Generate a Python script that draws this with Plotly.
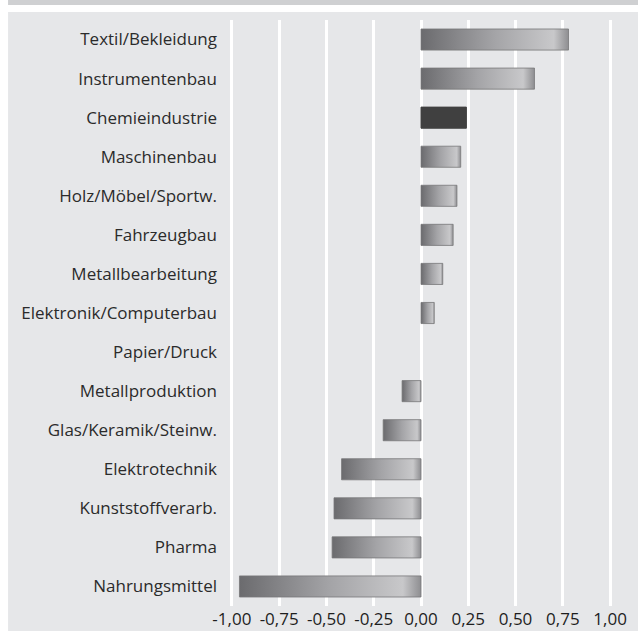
import plotly.graph_objects as go

# Sector values (top to bottom)
categories = [
    "Textil/Bekleidung", "Instrumentenbau", "Chemieindustrie", "Maschinenbau",
    "Holz/Möbel/Sportw.", "Fahrzeugbau", "Metallbearbeitung",
    "Elektronik/Computerbau", "Papier/Druck", "Metallproduktion",
    "Glas/Keramik/Steinw.", "Elektrotechnik", "Kunststoffverarb.", "Pharma",
    "Nahrungsmittel",
]
values = [0.78, 0.60, 0.24, 0.21, 0.19, 0.17, 0.115, 0.07, 0.0,
          -0.10, -0.20, -0.42, -0.46, -0.47, -0.96]
highlighted = "Chemieindustrie"

x_tick_values = [-1.0, -0.75, -0.5, -0.25, 0.0, 0.25, 0.5, 0.75, 1.0]
x_tick_labels = ["-1,00", "-0,75", "-0,50", "-0,25", "0,00", "0,25", "0,50", "0,75", "1,00"]

BG = "#e6e7e9"
BAND = "#cfd0d2"
HALF = 0.27  # half bar thickness in category units
FONT = "Open Sans"
TEXT = "#2b2b2b"

n = len(categories)
y_pos = [n - 1 - i for i in range(n)]

fig = go.Figure()

for cat, val, yc in zip(categories, values, y_pos):
    if val == 0:
        continue
    xs = [0, val, val, 0, 0]
    ys = [yc - HALF, yc - HALF, yc + HALF, yc + HALF, yc - HALF]
    if cat == highlighted:
        fig.add_trace(go.Scatter(
            x=xs, y=ys, mode="lines", fill="toself",
            fillcolor="#404040", line=dict(color="#404040", width=1),
            hoverinfo="skip", showlegend=False,
        ))
    else:
        fig.add_trace(go.Scatter(
            x=xs, y=ys, mode="lines", fill="toself",
            fillgradient=dict(
                type="horizontal",
                colorscale=[[0, "#6b6b6e"], [0.5, "#a4a4a7"],
                            [0.9, "#c8c8ca"], [1, "#8e8e91"]],
            ),
            line=dict(color="#777779", width=0.8),
            hoverinfo="skip", showlegend=False,
        ))

# page frame: grey backdrop and thin band on top
fig.add_shape(type="rect", xref="paper", yref="paper",
              x0=-0.581, x1=1.07, y0=-0.05, y1=1.0137,
              fillcolor=BG, line_width=0, layer="below")
fig.add_shape(type="rect", xref="paper", yref="paper",
              x0=-0.581, x1=1.07, y0=1.0256, y1=1.04,
              fillcolor=BAND, line_width=0, layer="below")

fig.update_layout(
    width=638, height=631,
    margin=dict(l=230, r=26, t=20, b=25, autoexpand=False),
    paper_bgcolor="white",
    plot_bgcolor="rgba(0,0,0,0)",
    font=dict(family=FONT, size=17, color=TEXT),
    xaxis=dict(
        range=[-1.01, 1.01],
        tickvals=x_tick_values, ticktext=x_tick_labels,
        showgrid=True, gridcolor="white", gridwidth=2.5,
        zeroline=True, zerolinecolor="white", zerolinewidth=2.5,
        showline=False, ticks="",
        tickfont=dict(family=FONT, size=17, color="#1e1e1e"),
        ticklabelstandoff=1,
        automargin=False,
        fixedrange=True,
    ),
    yaxis=dict(
        range=[-0.5, n - 0.5],
        tickvals=y_pos, ticktext=categories,
        showgrid=False, zeroline=False, showline=False, ticks="",
        tickfont=dict(family=FONT, size=17, color=TEXT),
        ticklabelstandoff=12,
        automargin=False,
        fixedrange=True,
    ),
)

fig.write_html("out.html")
